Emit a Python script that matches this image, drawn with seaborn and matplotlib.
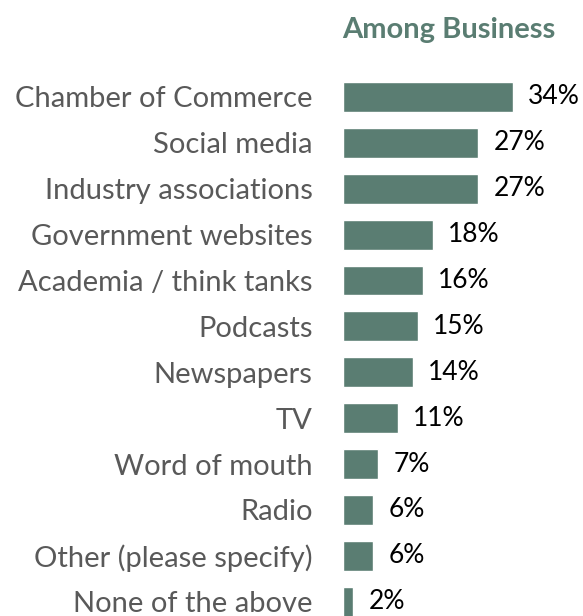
import matplotlib
matplotlib.use("Agg")
import matplotlib.pyplot as plt
import seaborn as sns
import pandas as pd

categories = [
    "Chamber of Commerce", "Social media", "Industry associations",
    "Government websites", "Academia / think tanks", "Podcasts",
    "Newspapers", "TV", "Word of mouth", "Radio",
    "Other (please specify)", "None of the above",
]
values = [34, 27, 27, 18, 16, 15, 14, 11, 7, 6, 6, 2]
title = "Among Business"

BAR = "#5a7d72"
W, H = 583, 616

sns.set_theme(style="white")
plt.rcParams["font.family"] = ["Lato", "DejaVu Sans"]

fig = plt.figure(figsize=(W / 100, H / 100), dpi=100)
ax = fig.add_axes([343 / W, 0, 240 / W, (616 - 74) / H])

df = pd.DataFrame({"source": categories, "share": values})
sns.barplot(data=df, y="source", x="share", orient="h", color=BAR,
            width=0.65, saturation=1, ax=ax)

ax.set_xlim(0, 48)
ax.set_ylim(11.31, -0.5)
ax.set_xlabel("")
ax.set_ylabel("")
ax.set_xticks([])
ax.tick_params(axis="y", length=0, pad=22, labelsize=21, labelcolor="#595959")
for s in ax.spines.values():
    s.set_visible(False)

ax.bar_label(ax.containers[0], labels=[f"{v}%" for v in values],
             padding=11, fontsize=19, color="#000000")

fig.text(449 / W, 1 - 30 / H, title, ha="center", va="center",
         fontsize=21, fontweight="bold", color=BAR)

fig.savefig("out.png", dpi=100)
